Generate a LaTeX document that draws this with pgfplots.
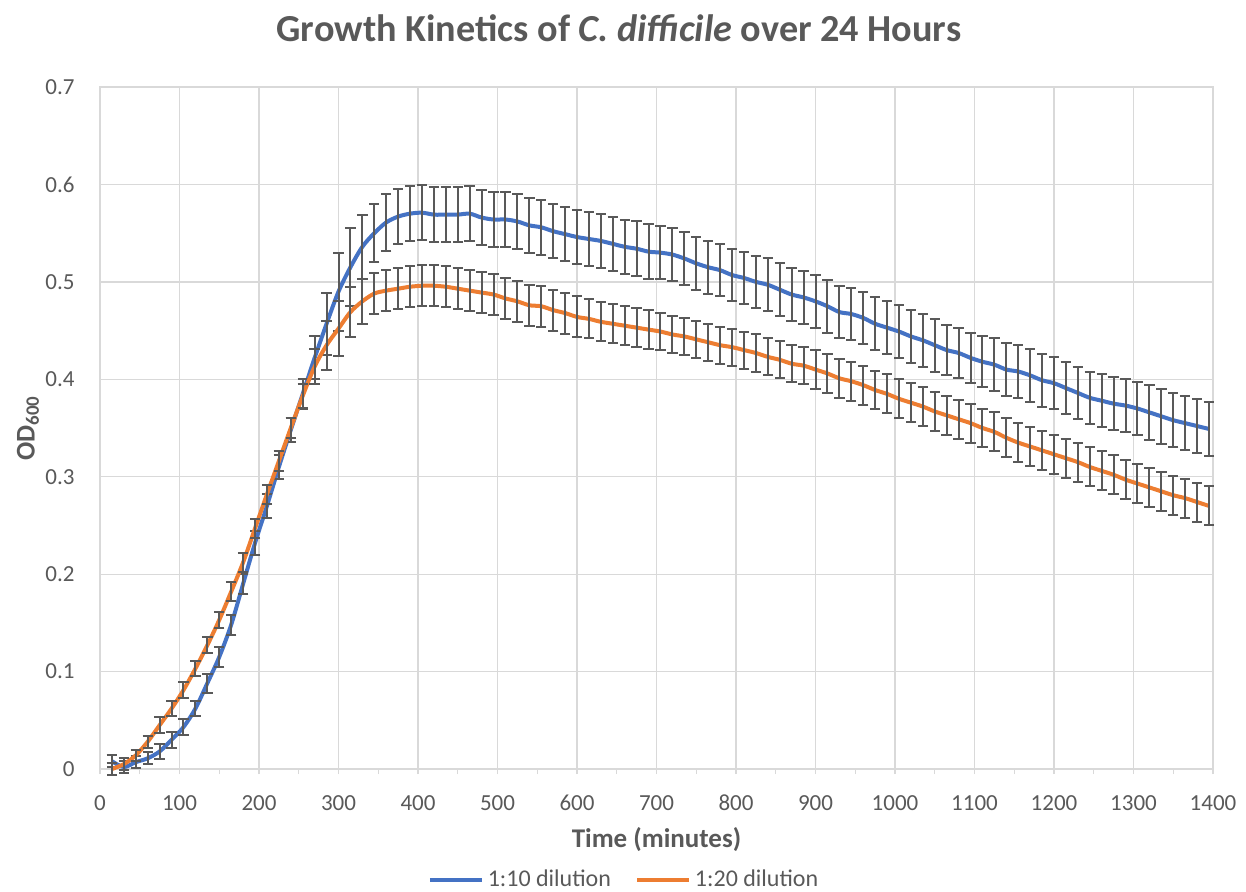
\documentclass[border=0pt]{standalone}
\usepackage{fontspec}
\setmainfont{Carlito}
\usepackage{pgfplots}
\usepackage{pgfplotstable}
\pgfplotsset{compat=1.18}

\definecolor{txtgray}{HTML}{595959}
\definecolor{gridgray}{HTML}{D9D9D9}
\definecolor{errgray}{HTML}{595959}
\definecolor{xlblue}{HTML}{4472C4}
\definecolor{xlorange}{HTML}{ED7D31}

% time (min), 1:10 mean, 1:10 sd, 1:20 mean, 1:20 sd
\pgfplotstableread{
t     a      ea     b      eb
15    0.008  0.006  0.000  0.006
30    0.002  0.006  0.005  0.006
45    0.007  0.006  0.014  0.006
60    0.011  0.006  0.028  0.006
75    0.018  0.008  0.045  0.008
90    0.030  0.008  0.062  0.008
105   0.043  0.008  0.081  0.008
120   0.062  0.008  0.103  0.008
135   0.088  0.010  0.127  0.008
150   0.115  0.010  0.153  0.008
165   0.148  0.010  0.182  0.010
180   0.190  0.010  0.212  0.010
195   0.232  0.012  0.247  0.010
210   0.270  0.012  0.282  0.010
225   0.310  0.012  0.316  0.010
240   0.348  0.012  0.350  0.010
255   0.385  0.015  0.383  0.012
270   0.422  0.022  0.413  0.018
285   0.457  0.032  0.435  0.025
300   0.490  0.040  0.452  0.028
315   0.515  0.040  0.469  0.026
330   0.536  0.033  0.480  0.023
345   0.550  0.030  0.488  0.021
360   0.561  0.029  0.491  0.021
375   0.567  0.028  0.493  0.021
390   0.570  0.028  0.495  0.021
405   0.571  0.028  0.496  0.021
420   0.569  0.028  0.496  0.021
435   0.569  0.028  0.495  0.021
450   0.569  0.028  0.493  0.021
465   0.570  0.028  0.491  0.021
480   0.566  0.028  0.489  0.021
495   0.564  0.028  0.487  0.021
510   0.564  0.028  0.483  0.021
525   0.562  0.028  0.480  0.021
540   0.558  0.028  0.476  0.021
555   0.556  0.028  0.475  0.021
570   0.552  0.028  0.471  0.021
585   0.549  0.028  0.468  0.021
600   0.546  0.028  0.464  0.021
615   0.544  0.028  0.462  0.020
630   0.542  0.028  0.459  0.020
645   0.539  0.028  0.457  0.020
660   0.536  0.028  0.455  0.020
675   0.534  0.028  0.453  0.020
690   0.531  0.028  0.451  0.020
705   0.530  0.027  0.449  0.019
720   0.528  0.027  0.446  0.019
735   0.524  0.027  0.444  0.019
750   0.519  0.027  0.441  0.019
765   0.515  0.027  0.438  0.019
780   0.512  0.027  0.435  0.019
795   0.507  0.027  0.433  0.019
810   0.504  0.027  0.430  0.019
825   0.500  0.027  0.427  0.019
840   0.497  0.027  0.423  0.019
855   0.492  0.027  0.420  0.019
870   0.487  0.027  0.416  0.019
885   0.484  0.027  0.414  0.019
900   0.480  0.027  0.410  0.020
915   0.475  0.027  0.406  0.020
930   0.469  0.027  0.401  0.020
945   0.467  0.027  0.398  0.020
960   0.463  0.027  0.394  0.020
975   0.457  0.027  0.389  0.020
990   0.453  0.027  0.385  0.020
1005  0.449  0.027  0.380  0.020
1020  0.444  0.027  0.376  0.020
1035  0.440  0.027  0.372  0.020
1050  0.435  0.027  0.367  0.020
1065  0.430  0.026  0.363  0.020
1080  0.427  0.026  0.359  0.020
1095  0.422  0.026  0.355  0.020
1110  0.418  0.026  0.350  0.020
1125  0.415  0.027  0.346  0.020
1140  0.410  0.027  0.340  0.020
1155  0.408  0.027  0.335  0.020
1170  0.404  0.027  0.331  0.020
1185  0.399  0.027  0.327  0.020
1200  0.396  0.027  0.323  0.020
1215  0.391  0.027  0.319  0.020
1230  0.386  0.027  0.315  0.020
1245  0.381  0.027  0.310  0.020
1260  0.378  0.027  0.306  0.020
1275  0.375  0.027  0.302  0.020
1290  0.373  0.027  0.297  0.020
1305  0.370  0.027  0.293  0.020
1320  0.366  0.028  0.289  0.020
1335  0.362  0.028  0.285  0.020
1350  0.358  0.028  0.281  0.020
1365  0.355  0.028  0.278  0.020
1380  0.352  0.028  0.274  0.020
1395  0.349  0.028  0.270  0.020
}\growth

\begin{document}
\begin{tikzpicture}
\begin{axis}[
  name=ax,
  scale only axis,
  width=556.5pt,
  height=341pt,
  xmin=0, xmax=1400,
  ymin=0, ymax=0.7,
  xtick={0,100,...,1400},
  minor xtick={50,150,...,1350},
  ytick={0,0.1,...,0.7},
  grid=major,
  major grid style={draw=gridgray, line width=0.65pt},
  axis line style={draw=gridgray, line width=0.65pt},
  tick align=outside,
  major tick length=2.5pt,
  minor tick length=2.5pt,
  xtick style={draw=gridgray, line width=0.65pt},
  ytick style={draw=none},
  xtick pos=bottom,
  ytick pos=left,
  tick label style={font=\fontsize{11.5}{13}\selectfont, text=txtgray},
  /pgf/number format/assume math mode=true,
  /pgf/number format/1000 sep={},
  yticklabel style={/pgf/number format/fixed, /pgf/number format/precision=1, anchor=east, inner sep=0pt, xshift=-10pt},
  xticklabel style={inner sep=0pt, anchor=base, yshift=-18pt},
  title={Growth Kinetics of \textit{C. difficile} over 24 Hours},
  title style={at={(axis description cs:0.4663,1.0484)}, anchor=base, font=\bfseries\fontsize{19.1}{21}\selectfont, text=txtgray},
  xlabel={Time (minutes)},
  xlabel style={at={(axis description cs:0.5,-0.1158)}, anchor=base, font=\bfseries\fontsize{13.5}{15}\selectfont, text=txtgray},
  ylabel={OD\textsubscript{600}},
  ylabel style={at={(axis description cs:-0.0647,0.5)}, anchor=center, font=\bfseries\fontsize{13.5}{15}\selectfont, text=txtgray},
  legend columns=2,
  legend style={at={(axis description cs:0.4717,-0.1628)}, anchor=center, draw=none, fill=none,
    font=\fontsize{12}{14}\selectfont, text=txtgray,
    /tikz/every even column/.append style={column sep=10pt}},
  legend image code/.code={\draw[#1, line width=2pt] (0pt,0pt) -- (26pt,0pt);},
  clip=false,
]
\addplot+[xlblue, line width=2pt, mark=none, smooth,
  error bars/.cd, y dir=both, y explicit,
  error bar style={line width=1pt, color=errgray},
  error mark options={rotate=90, mark size=2.6pt, line width=1pt, color=errgray}]
  table[x=t, y=a, y error=ea] {\growth};
\addlegendentry{1:10 dilution}
\addplot+[xlorange, line width=2pt, mark=none, smooth,
  error bars/.cd, y dir=both, y explicit,
  error bar style={line width=1pt, color=errgray},
  error mark options={rotate=90, mark size=2.6pt, line width=1pt, color=errgray}]
  table[x=t, y=b, y error=eb] {\growth};
\addlegendentry{1:20 dilution}
\end{axis}
\pgfresetboundingbox
\path[use as bounding box] ([xshift=-50pt,yshift=-61pt]ax.south west) rectangle ([xshift=573pt,yshift=384.5pt]ax.south west);
\end{tikzpicture}
\end{document}
